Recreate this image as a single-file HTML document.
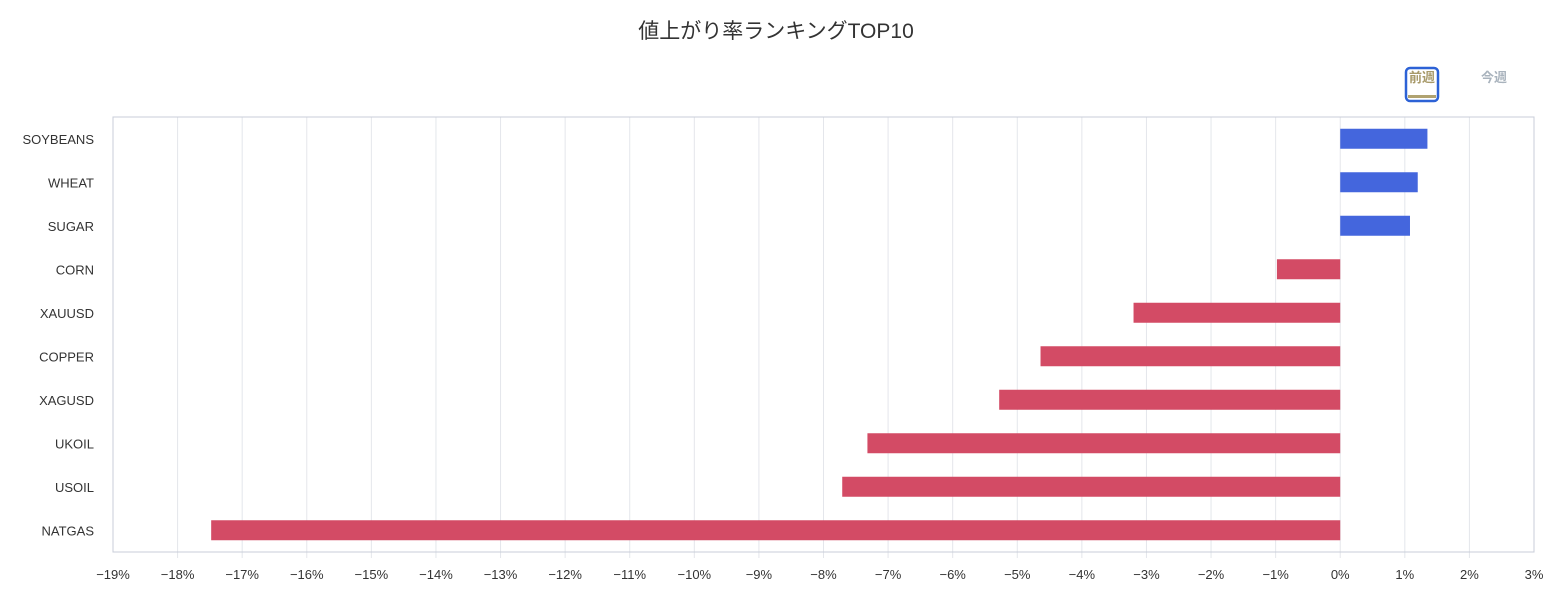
<!DOCTYPE html>
<html><head><meta charset="utf-8"><style>
body{margin:0;width:1552px;height:596px;background:#fff;font-family:"Liberation Sans","Noto Sans CJK JP",sans-serif;overflow:hidden}
</style></head><body>
<svg width="1552" height="596" xmlns="http://www.w3.org/2000/svg">
<text x="776" y="38" text-anchor="middle" font-size="21" fill="#333" font-family="Liberation Sans, Noto Sans CJK JP, sans-serif">値上がり率ランキングTOP10</text>
<g>
<rect x="1406" y="68" width="32" height="33" rx="4" fill="#fff" stroke="#2d62d6" stroke-width="2.5"/>
<rect x="1408" y="95" width="28" height="3" fill="#b0a270"/>
<text x="1422" y="82" text-anchor="middle" font-size="13" font-weight="bold" fill="#a89a6a" font-family="Liberation Sans, Noto Sans CJK JP, sans-serif">前週</text>
</g>
<text x="1494" y="82" text-anchor="middle" font-size="13" font-weight="bold" fill="#a9b3bd" font-family="Liberation Sans, Noto Sans CJK JP, sans-serif">今週</text>
<g id="grid"></g><g id="bars"></g><g id="labels"></g>
<rect x="113" y="117" width="1421" height="435" fill="none" stroke="#c8cdd8" stroke-width="1"/>
</svg>
<script>
const categories=["SOYBEANS","WHEAT","SUGAR","CORN","XAUUSD","COPPER","XAGUSD","UKOIL","USOIL","NATGAS"];
const values=[1.35,1.2,1.08,-0.98,-3.2,-4.64,-5.28,-7.32,-7.71,-17.48];
const ticks=[-19,-18,-17,-16,-15,-14,-13,-12,-11,-10,-9,-8,-7,-6,-5,-4,-3,-2,-1,0,1,2,3];
const NS="http://www.w3.org/2000/svg";
const L=113,R=1534,T=117,B=552,xmin=-19,xmax=3;
const x=v=>L+(v-xmin)/(xmax-xmin)*(R-L);
const band=(B-T)/categories.length;
const y=i=>T+band*i+band/2;
function mk(tag,attrs,parent){const e=document.createElementNS(NS,tag);for(const k in attrs)e.setAttribute(k,attrs[k]);document.getElementById(parent).appendChild(e);return e;}
ticks.forEach(t=>{
 const g=mk('line',{x1:x(t),x2:x(t),y1:T,y2:B+(t===xmin||t===xmax?0:6),stroke:'#e4e6eb','stroke-width':1},'grid');
 
 
 const tx=mk('text',{x:x(t),y:579,'text-anchor':'middle','font-size':13,fill:'#333'},'labels');
 tx.textContent=(t<0?'−':'')+Math.abs(t)+'%';
 
 
});
categories.forEach((c,i)=>{
 const v=values[i];
 const r=mk('rect',{x:Math.min(x(0),x(v)),y:y(i)-10,width:Math.abs(x(v)-x(0)),height:20,fill:v>=0?'#4466dd':'#d34b65'},'bars');
 
 
 const tx=mk('text',{x:94,y:y(i)+5,'text-anchor':'end','font-size':13,fill:'#333'},'labels');
 tx.textContent=c;
 
 
});
</script>
</body></html>
